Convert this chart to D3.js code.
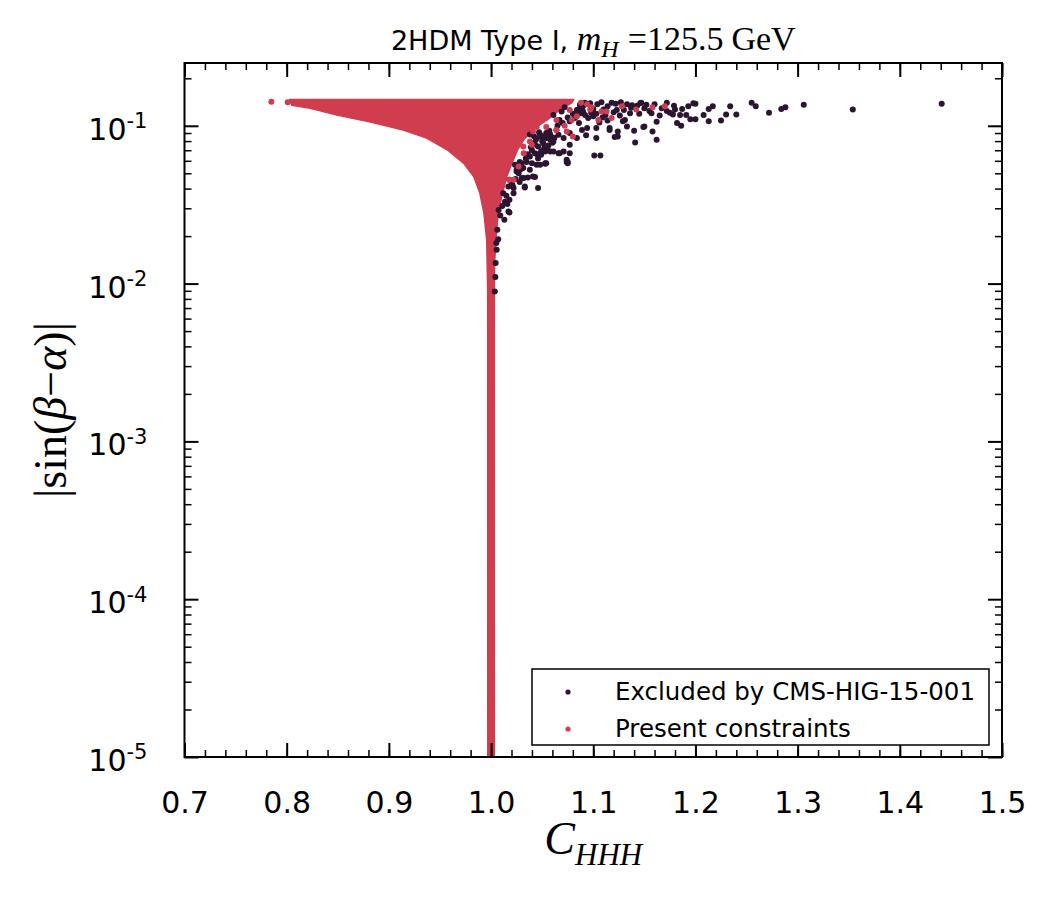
<!DOCTYPE html>
<html>
<head>
<meta charset="utf-8">
<script src="https://cdn.jsdelivr.net/npm/d3@7"></script>
<style>
  body { margin: 0; background: #fff; }
  text { font-family: "DejaVu Sans", sans-serif; }
  .serif { font-family: "Liberation Serif", "DejaVu Serif", serif; }
</style>
</head>
<body>
<div id="chart"></div>
<script>
// tick labels
var xTicks = [0.7, 0.8, 0.9, 1.0, 1.1, 1.2, 1.3, 1.4, 1.5];
var yTicks = [1e-5, 1e-4, 1e-3, 1e-2, 1e-1];

// outline of the dense "present constraints" region (C_HHH, |sin(b-a)|)
var presentEdgeC = [0.803, 0.900, 1.000, 1.081, 1.079, 1.067, 1.055, 1.043, 1.032, 1.026, 1.021, 1.0156,
  1.0107, 1.0068, 1.0048, 1.0035, 1.0032, 1.0032, 0.9968, 0.9967, 0.9957, 0.993, 0.989, 0.983,
  0.973, 0.957, 0.937, 0.914, 0.881, 0.849, 0.823, 0.805];
var presentEdgeS = [0.147, 0.147, 0.147, 0.147, 0.140, 0.126, 0.109, 0.097, 0.0815, 0.0705, 0.059, 0.048,
  0.0365, 0.0273, 0.0189, 0.0137, 0.0091, 1e-5, 1e-5, 0.0091, 0.019, 0.028, 0.0375, 0.0477,
  0.058, 0.0705, 0.0836, 0.094, 0.106, 0.117, 0.129, 0.135];

// isolated "present constraints" points
var presentC = [0.785, 0.801, 1.018, 1.027, 1.032, 1.040, 1.041, 1.054, 1.064, 1.064, 1.074, 1.080,
  1.084, 1.077, 1.097, 1.105, 1.113, 1.118, 1.128, 1.142, 1.158, 1.170, 1.108, 1.098, 1.0315,
  1.038, 1.022, 1.072, 1.079, 1.0446, 1.088, 1.094];
var presentS = [0.142, 0.141, 0.0455, 0.0552, 0.0671, 0.0758, 0.092, 0.0983, 0.094, 0.109, 0.092, 0.0855,
  0.115, 0.126, 0.127, 0.109, 0.123, 0.112, 0.133, 0.127, 0.131, 0.133, 0.123, 0.131, 0.074,
  0.0795, 0.0455, 0.100, 0.109, 0.0983, 0.140, 0.137];

// points excluded by CMS-HIG-15-001
var excludedC = [1.441, 1.354, 1.306, 1.288, 1.284, 1.272, 1.259, 1.255, 1.240, 1.234, 1.230, 1.225,
  1.217, 1.213, 1.213, 1.208, 1.200, 1.198, 1.200, 1.195, 1.193, 1.191, 1.187, 1.185, 1.186,
  1.182, 1.179, 1.178, 1.175, 1.172, 1.165, 1.162, 1.162, 1.158, 1.157, 1.152, 1.150, 1.147,
  1.145, 1.141, 1.140, 1.138, 1.133, 1.131, 1.124, 1.122, 1.121, 1.116, 1.114, 1.107, 1.101,
  1.103, 1.103, 1.104, 1.089, 1.087, 1.077, 1.074, 1.066, 1.053, 1.043, 1.046, 1.038, 1.033,
  1.030, 1.022, 1.018, 1.013, 1.007, 1.041, 1.032, 1.022, 1.017, 1.018, 1.0136, 1.025, 1.028,
  1.048, 1.053, 1.049, 1.058, 1.054, 1.048, 1.061, 1.067, 1.074, 1.075, 1.066, 1.077, 1.084,
  1.077, 1.084, 1.090, 1.094, 1.100, 1.110, 1.116, 1.123, 1.124, 1.129, 1.136, 1.149, 1.146,
  1.0055, 1.0045, 1.0042, 1.0037, 1.0074, 1.0061, 1.0052, 1.012, 1.017, 1.018, 1.025, 1.0315,
  1.0234, 1.0348, 1.038, 1.043, 1.041, 1.048, 1.054, 1.051, 1.058, 1.061, 1.0446, 1.033, 1.054,
  1.053, 1.071, 1.075, 1.071, 1.064, 1.077, 1.067, 1.061, 1.069, 1.084,
  1.044, 1.050, 1.046, 1.056, 1.040, 1.052, 1.058, 1.062, 1.036, 1.046, 1.030, 1.027, 1.020,
  1.036, 1.015, 1.009, 1.011, 1.092, 1.097, 1.108, 1.118, 1.127, 1.133, 1.088, 1.095, 1.106,
  1.112, 1.100, 1.082, 1.086, 1.093, 1.114,
  1.038, 1.042, 1.047, 1.052, 1.057, 1.060, 1.055, 1.043, 1.039, 1.049, 1.045, 1.034, 1.040,
  1.029, 1.024, 1.021, 1.028, 1.016, 1.065, 1.070, 1.075, 1.080, 1.072, 1.086, 1.090, 1.092,
  1.098, 1.103, 1.109, 1.120, 1.126, 1.130, 1.137, 1.143, 1.150, 1.155, 1.160, 1.167, 1.172, 1.180];
var excludedS = [0.138, 0.127, 0.136, 0.131, 0.128, 0.121, 0.133, 0.140, 0.118, 0.133, 0.118, 0.108,
  0.133, 0.128, 0.107, 0.117, 0.138, 0.139, 0.110, 0.110, 0.133, 0.117, 0.128, 0.117, 0.100,
  0.104, 0.134, 0.118, 0.121, 0.140, 0.116, 0.0815, 0.106, 0.092, 0.120, 0.136, 0.099, 0.140,
  0.119, 0.0784, 0.093, 0.135, 0.099, 0.109, 0.092, 0.138, 0.085, 0.094, 0.133, 0.0648, 0.0648,
  0.0836, 0.0967, 0.137, 0.094, 0.136, 0.0671, 0.059, 0.0671, 0.0574, 0.0473, 0.0403, 0.0526, 0.0406,
  0.0466, 0.0374, 0.0282, 0.0254, 0.0191, 0.0477, 0.0466, 0.0403, 0.0286, 0.034, 0.033, 0.0526, 0.059,
  0.0566, 0.058, 0.0655, 0.0687, 0.0836, 0.0877, 0.0795, 0.0671, 0.0609, 0.058, 0.0877, 0.0758, 0.0836,
  0.107, 0.117, 0.133, 0.0967, 0.115, 0.127, 0.0967, 0.126, 0.0855, 0.107, 0.120, 0.0983, 0.139,
  0.0164, 0.0135, 0.0110, 0.0089, 0.0293, 0.0219, 0.0181, 0.0374, 0.0412, 0.0455, 0.0513, 0.054,
  0.0566, 0.059, 0.064, 0.0671, 0.0776, 0.0855, 0.0899, 0.0776, 0.0815, 0.0687, 0.0566, 0.0412, 0.058,
  0.0687, 0.0687, 0.059, 0.0836, 0.094, 0.0899, 0.109, 0.117, 0.123, 0.126,
  0.082, 0.080, 0.074, 0.075, 0.070, 0.072, 0.088, 0.084, 0.066, 0.062, 0.058, 0.050, 0.044,
  0.047, 0.036, 0.027, 0.031, 0.140, 0.139, 0.141, 0.140, 0.141, 0.137, 0.120, 0.112, 0.105,
  0.117, 0.128, 0.112, 0.104, 0.087, 0.108,
  0.088, 0.086, 0.091, 0.086, 0.093, 0.078, 0.071, 0.076, 0.073, 0.069, 0.066, 0.062, 0.058,
  0.053, 0.046, 0.042, 0.044, 0.032, 0.100, 0.104, 0.113, 0.119, 0.131, 0.128, 0.123, 0.117,
  0.121, 0.119, 0.113, 0.122, 0.116, 0.126, 0.130, 0.134, 0.129, 0.124, 0.137, 0.129, 0.124, 0.127];

var legendLabels = ["Excluded by CMS-HIG-15-001", "Present constraints"];

var colPresent = "#cf3d4f";
var colExcluded = "#2b1530";

var margin = {top: 63, right: 48, bottom: 143, left: 184.5};
var width = 1050 - margin.left - margin.right;
var height = 900 - margin.top - margin.bottom;

var svg = d3.select("#chart")
  .append("svg")
    .attr("width", 1050)
    .attr("height", 900);

var plot = svg.append("g")
    .attr("transform", "translate(" + margin.left + "," + margin.top + ")");

var x = d3.scaleLinear().domain([0.7, 1.5]).range([0, width]),
    y = d3.scaleLog().domain([1e-5, 0.25]).range([height, 0]);

plot.append("clipPath").attr("id", "clip")
  .append("rect").attr("width", width).attr("height", height);

var marks = plot.append("g").attr("clip-path", "url(#clip)");

// dense region
var edge = presentEdgeC.map(function(c, i) { return [c, presentEdgeS[i]]; });
marks.append("path")
  .datum(edge)
  .attr("fill", colPresent)
  .attr("stroke", colPresent)
  .attr("stroke-width", 1.5)
  .attr("stroke-linejoin", "round")
  .attr("d", d3.line()
    .x(function(d) { return x(d[0]); })
    .y(function(d) { return y(d[1]); })
    .curve(d3.curveLinearClosed));

marks.selectAll(".excl")
  .data(excludedC.map(function(c, i) { return [c, excludedS[i]]; }))
  .enter().append("circle")
    .attr("class", "excl")
    .attr("cx", function(d) { return x(d[0]); })
    .attr("cy", function(d) { return y(d[1]); })
    .attr("r", 3)
    .attr("fill", colExcluded);

marks.selectAll(".pres")
  .data(presentC.map(function(c, i) { return [c, presentS[i]]; }))
  .enter().append("circle")
    .attr("class", "pres")
    .attr("cx", function(d) { return x(d[0]); })
    .attr("cy", function(d) { return y(d[1]); })
    .attr("r", 3)
    .attr("fill", colPresent);

// ticks
var xMinor = d3.range(0, 41).map(function(i) { return 0.7 + i * 0.02; });
var yMinor = [];
yTicks.forEach(function(t) {
  for (var k = 2; k <= 9; k++) if (t * k <= 0.25) yMinor.push(t * k);
});

function tickStyle(g, w) {
  g.select(".domain").remove();
  g.selectAll(".tick line").attr("stroke", "#000").attr("stroke-width", w);
}

plot.append("g")
  .attr("transform", "translate(0," + height + ")")
  .call(d3.axisBottom(x).tickValues(xMinor).tickSize(-7).tickFormat(""))
  .call(tickStyle, 1.5);
plot.append("g")
  .call(d3.axisTop(x).tickValues(xMinor).tickSize(-7).tickFormat(""))
  .call(tickStyle, 1.5);
plot.append("g")
  .call(d3.axisTop(x).tickValues(xTicks).tickSize(-14).tickFormat(""))
  .call(tickStyle, 2);

var xAxis = plot.append("g")
  .attr("transform", "translate(0," + height + ")")
  .call(d3.axisBottom(x).tickValues(xTicks).tickSize(-14).tickPadding(35)
    .tickFormat(d3.format(".1f")))
  .call(tickStyle, 2);
xAxis.selectAll(".tick text")
  .attr("fill", "#000")
  .style("font-family", "DejaVu Sans")
  .style("font-size", "30px");

plot.append("g")
  .call(d3.axisLeft(y).tickValues(yMinor).tickSize(-7).tickFormat(""))
  .call(tickStyle, 1.5);
plot.append("g")
  .attr("transform", "translate(" + width + ",0)")
  .call(d3.axisRight(y).tickValues(yMinor).tickSize(-7).tickFormat(""))
  .call(tickStyle, 1.5);
plot.append("g")
  .attr("transform", "translate(" + width + ",0)")
  .call(d3.axisRight(y).tickValues(yTicks).tickSize(-14).tickFormat(""))
  .call(tickStyle, 2);

var yAxis = plot.append("g")
  .call(d3.axisLeft(y).tickValues(yTicks).tickSize(-14).tickPadding(37))
  .call(tickStyle, 2);
yAxis.selectAll(".tick text")
  .attr("fill", "#000")
  .attr("dy", "0.45em")
  .style("font-family", "DejaVu Sans")
  .style("font-size", "30px")
  .each(function(d) {
    var t = d3.select(this);
    t.text(null);
    t.append("tspan").text("10");
    t.append("tspan")
      .attr("dy", "-0.55em")
      .style("font-size", "21px")
      .text("-" + Math.round(-Math.log10(d)));
  });

// frame
plot.append("rect")
  .attr("width", width)
  .attr("height", height)
  .attr("fill", "none")
  .attr("stroke", "#000")
  .attr("stroke-width", 2);

// legend
var legend = plot.append("g")
  .attr("transform", "translate(" + (532 - margin.left) + "," + (669 - margin.top) + ")");
legend.append("rect")
  .attr("width", 457)
  .attr("height", 76)
  .attr("fill", "#fff")
  .attr("stroke", "#000")
  .attr("stroke-width", 1.5);
legend.selectAll(".lg")
  .data(legendLabels)
  .enter().append("g")
    .attr("class", "lg")
    .attr("transform", function(d, i) { return "translate(0," + (23 + i * 37) + ")"; })
    .each(function(d, i) {
      var g = d3.select(this);
      g.append("circle")
        .attr("cx", 36)
        .attr("r", 2.6)
        .attr("fill", i === 0 ? colExcluded : colPresent);
      g.append("text")
        .attr("x", 83)
        .attr("y", 7.5)
        .style("font-size", "24.5px")
        .text(d);
    });

// title
var title = svg.append("text")
  .attr("x", margin.left + width / 2)
  .attr("y", 50)
  .attr("text-anchor", "middle")
  .style("font-size", "27px");
title.append("tspan").text("2HDM Type I, ");
title.append("tspan").attr("class", "serif").style("font-style", "italic")
  .style("font-size", "34px").text("m");
title.append("tspan").attr("class", "serif").style("font-style", "italic")
  .style("font-size", "24px").attr("dy", 7).text("H");
title.append("tspan").attr("class", "serif")
  .style("font-size", "34px").attr("dy", -7).attr("dx", 9).text("=");
title.append("tspan").attr("class", "serif")
  .style("font-size", "34px").text("125.5");
title.append("tspan").attr("class", "serif")
  .style("font-size", "34px").attr("dx", 8).text("GeV");

// axis titles
var xLabel = svg.append("text")
  .attr("class", "serif")
  .attr("x", margin.left + width / 2)
  .attr("y", 854)
  .attr("text-anchor", "middle")
  .style("font-style", "italic");
xLabel.append("tspan").style("font-size", "46px").text("C");
xLabel.append("tspan").style("font-size", "31px").attr("dy", 11).text("HHH");

var yLabel = svg.append("text")
  .attr("class", "serif")
  .attr("transform", "translate(66," + (margin.top + height / 2) + ") rotate(-90)")
  .attr("text-anchor", "middle")
  .style("font-size", "46px");
yLabel.append("tspan").text("|sin(");
yLabel.append("tspan").style("font-style", "italic").text("β");
yLabel.append("tspan").text("−");
yLabel.append("tspan").style("font-style", "italic").text("α");
yLabel.append("tspan").text(")|");
</script>
</body>
</html>
